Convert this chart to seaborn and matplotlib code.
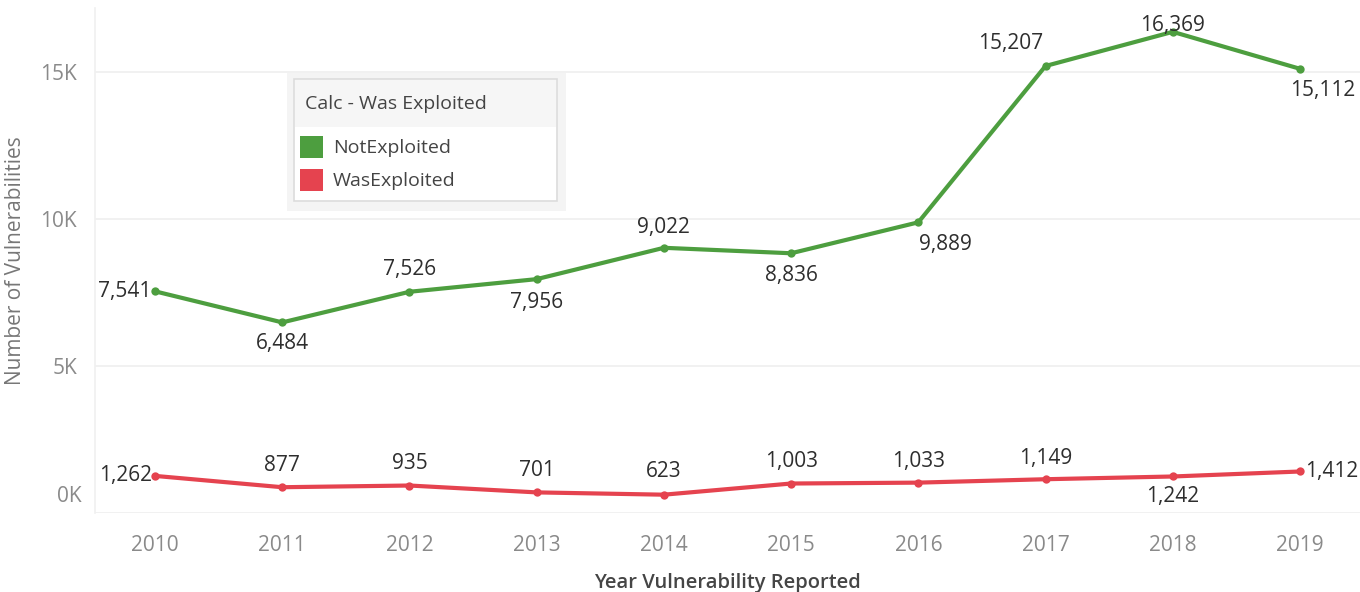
import matplotlib
matplotlib.use("Agg")
import matplotlib.pyplot as plt
import seaborn as sns
import pandas as pd
from matplotlib.patches import Rectangle

# ---- data ----
years = [2010, 2011, 2012, 2013, 2014, 2015, 2016, 2017, 2018, 2019]
not_exploited = [7541, 6484, 7526, 7956, 9022, 8836, 9889, 15207, 16369, 15112]
was_exploited = [1262, 877, 935, 701, 623, 1003, 1033, 1149, 1242, 1412]
series_names = ["NotExploited", "WasExploited"]
y_ticks = [0, 5000, 10000, 15000]
y_tick_labels = ["0K", "5K", "10K", "15K"]

colors = {"NotExploited": "#4d9e3f", "WasExploited": "#e5434f"}

df = pd.DataFrame({
    "year": years * 2,
    "count": not_exploited + was_exploited,
    "status": [series_names[0]] * len(years) + [series_names[1]] * len(years),
})

sns.set_theme(style="white")
plt.rcParams["font.family"] = ["Open Sans", "DejaVu Sans"]

W, H = 1360, 592
fig = plt.figure(figsize=(W / 100, H / 100), dpi=100)
L, R, T, B = 95, 1360, 8, 513
ax = fig.add_axes([L / W, (H - B) / H, (R - L) / W, (B - T) / H])

sns.lineplot(data=df, x="year", y="count", hue="status", palette=colors,
             marker="o", markersize=6, markeredgewidth=0, linewidth=3,
             legend=False, ax=ax)

ax.set_xlim(2009.528, 2019.472)
ax.set_ylim(0, 17180)
ax.set_xticks(years)
ax.set_xticklabels([str(y) for y in years], fontsize=15, color="#8a8a8a")
ax.set_yticks(y_ticks)
ax.set_yticklabels([""] + y_tick_labels[1:], fontsize=15, color="#8a8a8a")
ax.tick_params(axis="x", length=0, pad=16)
ax.tick_params(axis="y", length=0, pad=13)
ax.grid(axis="y", color="#efefef", linewidth=1.2)
ax.set_axisbelow(True)
for s in ["top", "right", "bottom"]:
    ax.spines[s].set_visible(False)
ax.spines["left"].set_color("#f0f0f0")
ax.spines["left"].set_linewidth(1.2)

# shifted 0K label (as in the reference)
ax.annotate(y_tick_labels[0], xy=(0, 0), xycoords=("axes fraction", "data"),
            xytext=(-13 * 0.72, 16 * 0.72), textcoords="offset points",
            ha="right", va="center", fontsize=15, color="#8a8a8a")

ax.set_xlabel("Year Vulnerability Reported", fontsize=14.5, fontweight="semibold",
              color="#454545", labelpad=12)
ax.set_ylabel("Number of Vulnerabilities", fontsize=15, color="#777777", labelpad=10)

# value labels: (dx, dy) in pixels, ha
green_off = [(-4, 0, "right"), (0, -21, "center"), (0, 22, "center"), (0, -23, "center"),
             (0, 20, "center"), (0, -22, "center"), (27, -22, "center"), (-35, 22, "center"),
             (0, 6, "center"), (23, -22, "center")]
red_off = [(-3, 0, "right"), (0, 22, "center"), (0, 22, "center"), (0, 22, "center"),
           (0, 23, "center"), (0, 22, "center"), (0, 21, "center"), (0, 21, "center"),
           (0, -20, "center"), (5, 0, "left")]
for vals, offs in [(not_exploited, green_off), (was_exploited, red_off)]:
    for x, v, (dx, dy, ha) in zip(years, vals, offs):
        ax.annotate(f"{v:,}", xy=(x, v), xytext=(dx * 0.72, dy * 0.72),
                    textcoords="offset points", ha=ha, va="center",
                    fontsize=15, color="#2e2e2e")

# ---- legend (Tableau-style card) ----
def fx(px):
    return px / W

def fy(py):
    return 1 - py / H

def rect(x0, y0, x1, y1, **kw):
    fig.patches.append(Rectangle((fx(x0), fy(y1)), fx(x1) - fx(x0), fy(y0) - fy(y1),
                                 transform=fig.transFigure, **kw))

rect(287, 73, 566, 211, facecolor="#f4f4f4", edgecolor="none", zorder=5)
rect(294, 79, 557, 201, facecolor="white", edgecolor="#dcdcdc", linewidth=1.2, zorder=6)
rect(295, 80, 556, 127, facecolor="#f6f6f6", edgecolor="none", zorder=7)
fig.text(fx(305), fy(104), "Calc - Was Exploited", fontsize=14, color="#444444",
         ha="left", va="center", zorder=8)
for i, name in enumerate(series_names):
    y0 = 136 + i * 33
    rect(300, y0, 323, y0 + 22, facecolor=colors[name], edgecolor="none", zorder=8)
    fig.text(fx(333), fy(y0 + 12), name, fontsize=14, color="#444444",
             ha="left", va="center", zorder=8)

fig.savefig("out.png", dpi=100)
